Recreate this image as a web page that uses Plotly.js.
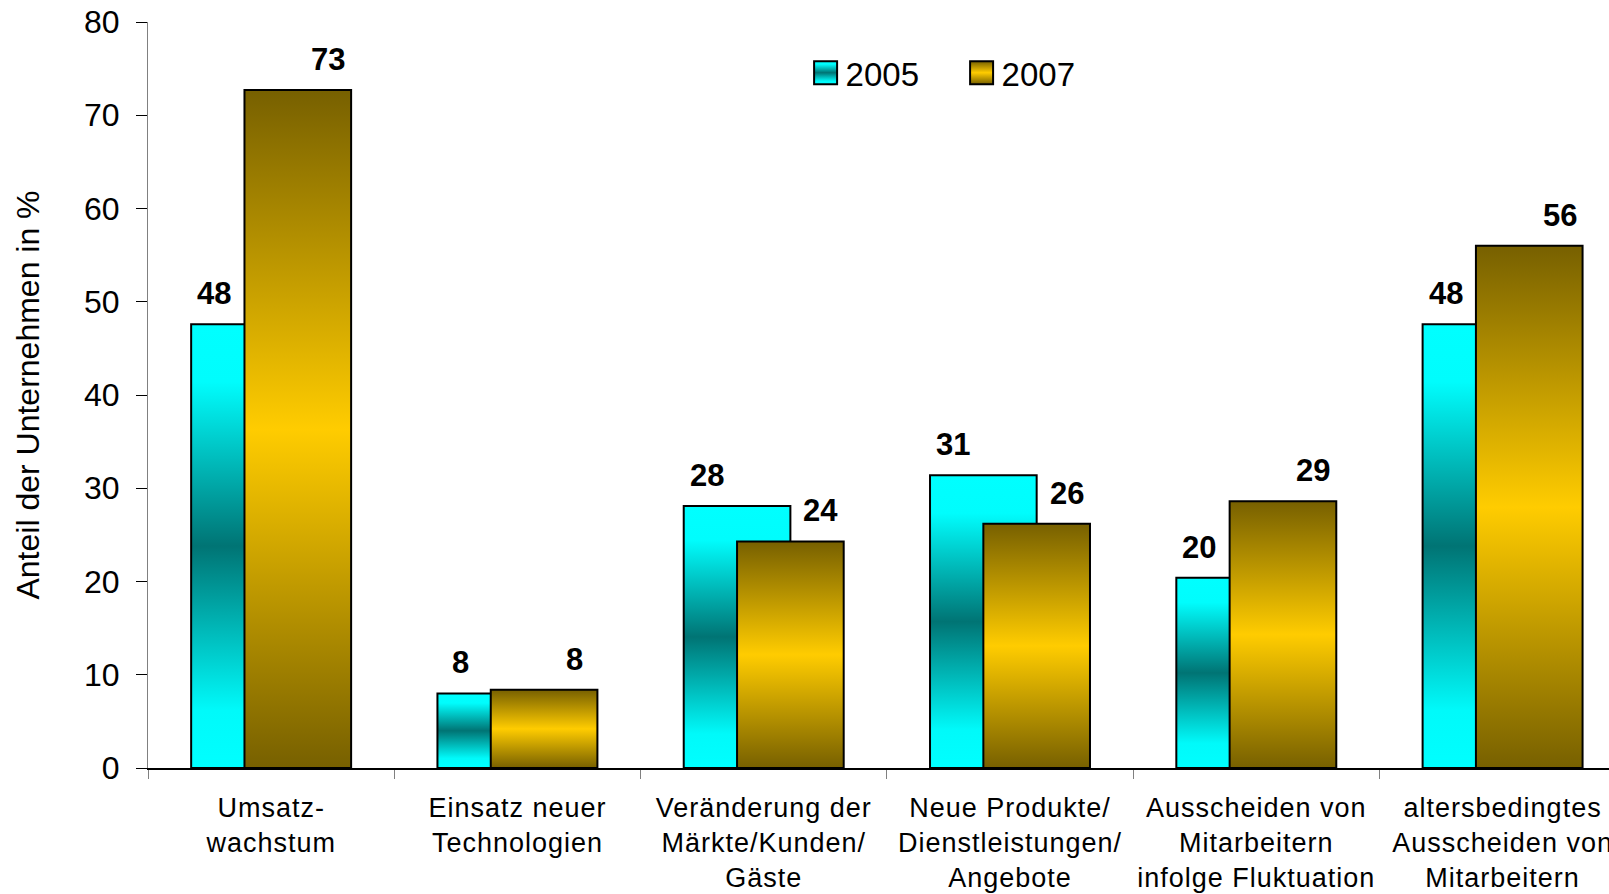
<!DOCTYPE html>
<html>
<head>
<meta charset="utf-8">
<script src="https://cdn.plot.ly/plotly-3.0.1.min.js"></script>
<style>
  html, body { margin: 0; padding: 0; background: #ffffff; }
  #chart { width: 1609px; height: 894px; }
</style>
</head>
<body>
<div id="chart"></div>
<script>
// ---- Data ----
const categories = [
  "Umsatz-<br>wachstum",
  "Einsatz neuer<br>Technologien",
  "Veränderung der<br>Märkte/Kunden/<br>Gäste",
  "Neue Produkte/<br>Dienstleistungen/<br>Angebote",
  "Ausscheiden von<br>Mitarbeitern<br>infolge Fluktuation",
  "altersbedingtes<br>Ausscheiden von<br>Mitarbeitern"
];
const seriesNames = ["2005", "2007"];
const values2005 = [47.6, 8.0, 28.1, 31.4, 20.4, 47.6];
const values2007 = [72.7, 8.4, 24.3, 26.2, 28.6, 56.0];
const yTickValues = [0, 10, 20, 30, 40, 50, 60, 70, 80];
const yTitle = "Anteil der Unternehmen in %";

// ---- Styling ----
const FONT = "Liberation Sans, Arial, Helvetica, sans-serif";
const barWidth = 0.433;
const offset2005 = -0.3248;
const offset2007 = -0.1083;
const labelDx = 0.231;

const data = [
  {
    type: "bar", name: seriesNames[0], x: categories, y: values2005,
    width: barWidth, offset: offset2005,
    marker: { color: "#00d8d8", line: { color: "#000000", width: 2 } },
    hoverinfo: "skip"
  },
  {
    type: "bar", name: seriesNames[1], x: categories, y: values2007,
    width: barWidth, offset: offset2007,
    marker: { color: "#d8aa00", line: { color: "#000000", width: 2 } },
    hoverinfo: "skip"
  }
];

const annotations = [];
function addLabels(vals, dx) {
  vals.forEach(function (v, i) {
    annotations.push({
      xref: "x", yref: "y", x: i + dx, y: v,
      text: String(Math.round(v)), showarrow: false,
      xanchor: "center", yanchor: "bottom", yshift: 11,
      font: { family: FONT, size: 31, color: "#000000", weight: "bold" }
    });
  });
}
addLabels(values2005, -labelDx);
addLabels(values2007, labelDx);

const layout = {
  width: 1609, height: 894,
  margin: { l: 148, r: 0, t: 22, b: 126, pad: 0 },
  paper_bgcolor: "#ffffff", plot_bgcolor: "#ffffff",
  barmode: "overlay",
  hovermode: false,
  showlegend: true,
  legend: {
    orientation: "h", x: 0.4501, xanchor: "left", y: 0.932, yanchor: "middle",
    font: { family: FONT, size: 33, color: "#000000" },
    bgcolor: "rgba(0,0,0,0)", borderwidth: 0,
    entrywidth: 111, entrywidthmode: "pixels",
    traceorder: "normal"
  },
  xaxis: {
    type: "category", range: [-0.5, 5.432],
    tickson: "boundaries", ticks: "outside", ticklen: 9, tickwidth: 1, tickcolor: "#808080",
    showline: true, linecolor: "#000000", linewidth: 1.5,
    showgrid: false, zeroline: false, tickangle: 0, automargin: false,
    tickfont: { family: FONT, size: 27, color: "#000000" },
    ticklabelstandoff: 15
  },
  yaxis: {
    range: [0, 80], tickmode: "array", tickvals: yTickValues,
    ticktext: yTickValues.map(String),
    ticks: "outside", ticklen: 11, tickwidth: 1, tickcolor: "#000000",
    showline: true, linecolor: "#808080", linewidth: 1,
    showgrid: false, zeroline: false, automargin: false,
    tickfont: { family: FONT, size: 32, color: "#000000" },
    ticklabelstandoff: 10,
    title: { text: yTitle, font: { family: FONT, size: 32, color: "#000000" }, standoff: 34 }
  },
  annotations: annotations
};

const gd = document.getElementById("chart");
Plotly.newPlot(gd, data, layout, { displayModeBar: false, staticPlot: true }).then(function () {
  const ns = "http://www.w3.org/2000/svg";
  const svg = gd.querySelector("svg.main-svg");
  const defs = document.createElementNS(ns, "defs");
  function addGrad(id, stops) {
    const g = document.createElementNS(ns, "linearGradient");
    g.setAttribute("id", id);
    g.setAttribute("x1", "0"); g.setAttribute("y1", "0");
    g.setAttribute("x2", "0"); g.setAttribute("y2", "1");
    stops.forEach(function (s) {
      const st = document.createElementNS(ns, "stop");
      st.setAttribute("offset", s[0]);
      st.setAttribute("stop-color", s[1]);
      g.appendChild(st);
    });
    defs.appendChild(g);
  }
  addGrad("grad2005", [[0, "#00ffff"], [0.13, "#00fdfd"], [0.5, "#007474"], [0.87, "#00fafa"], [1, "#00ffff"]]);
  addGrad("grad2007", [[0, "#776000"], [0.5, "#ffcc00"], [1, "#776000"]]);
  svg.insertBefore(defs, svg.firstChild);
  const gradIds = ["grad2005", "grad2007"];

  gd.querySelectorAll(".barlayer .trace").forEach(function (t, k) {
    t.querySelectorAll(".point path").forEach(function (p) {
      p.style.fill = "url(#" + gradIds[k] + ")";
    });
  });
  gd.querySelectorAll(".legend .traces").forEach(function (t, k) {
    t.querySelectorAll(".legendpoints path").forEach(function (p) {
      p.setAttribute("d", "M11.5,11.5H-11.5V-11.5H11.5Z");
      p.style.fill = "url(#" + gradIds[k] + ")";
      p.style.stroke = "#000000";
      p.style.strokeWidth = "2px";
    });
  });
  gd.querySelectorAll(".xtick text").forEach(function (t) {
    t.style.letterSpacing = "1px";
  });
});
</script>
</body>
</html>
